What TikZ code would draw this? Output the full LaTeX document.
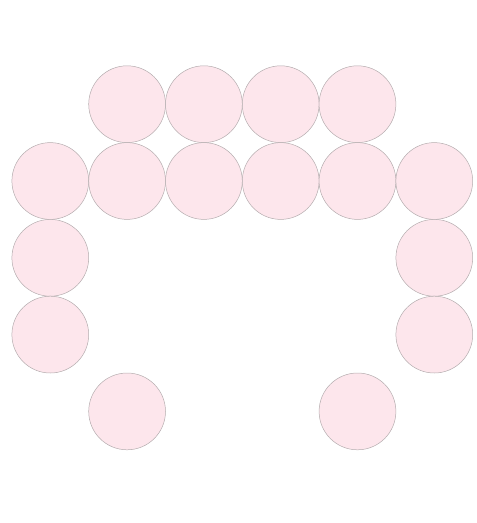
\documentclass[tikz,border=0pt]{standalone}
\definecolor{bead}{HTML}{FDE6EC}
\definecolor{beadline}{HTML}{B4ACAE}
\begin{document}
\begin{tikzpicture}[x=1pt,y=-1pt,
  bead/.style={circle,draw=beadline,fill=bead,line width=0.5pt,minimum size=76.8pt,inner sep=0pt}]
\useasboundingbox (0,0) rectangle (477,523);
\foreach \c/\r [count=\i] in {1/0,2/0,3/0,4/0,0/1,1/1,2/1,3/1,4/1,5/1,0/2,5/2,0/3,5/3,1/4,4/4}{
  \node[bead] (b\i) at ({50.3+76.8*\c},{104.2+76.8*\r}) {};
}
\end{tikzpicture}
\end{document}
